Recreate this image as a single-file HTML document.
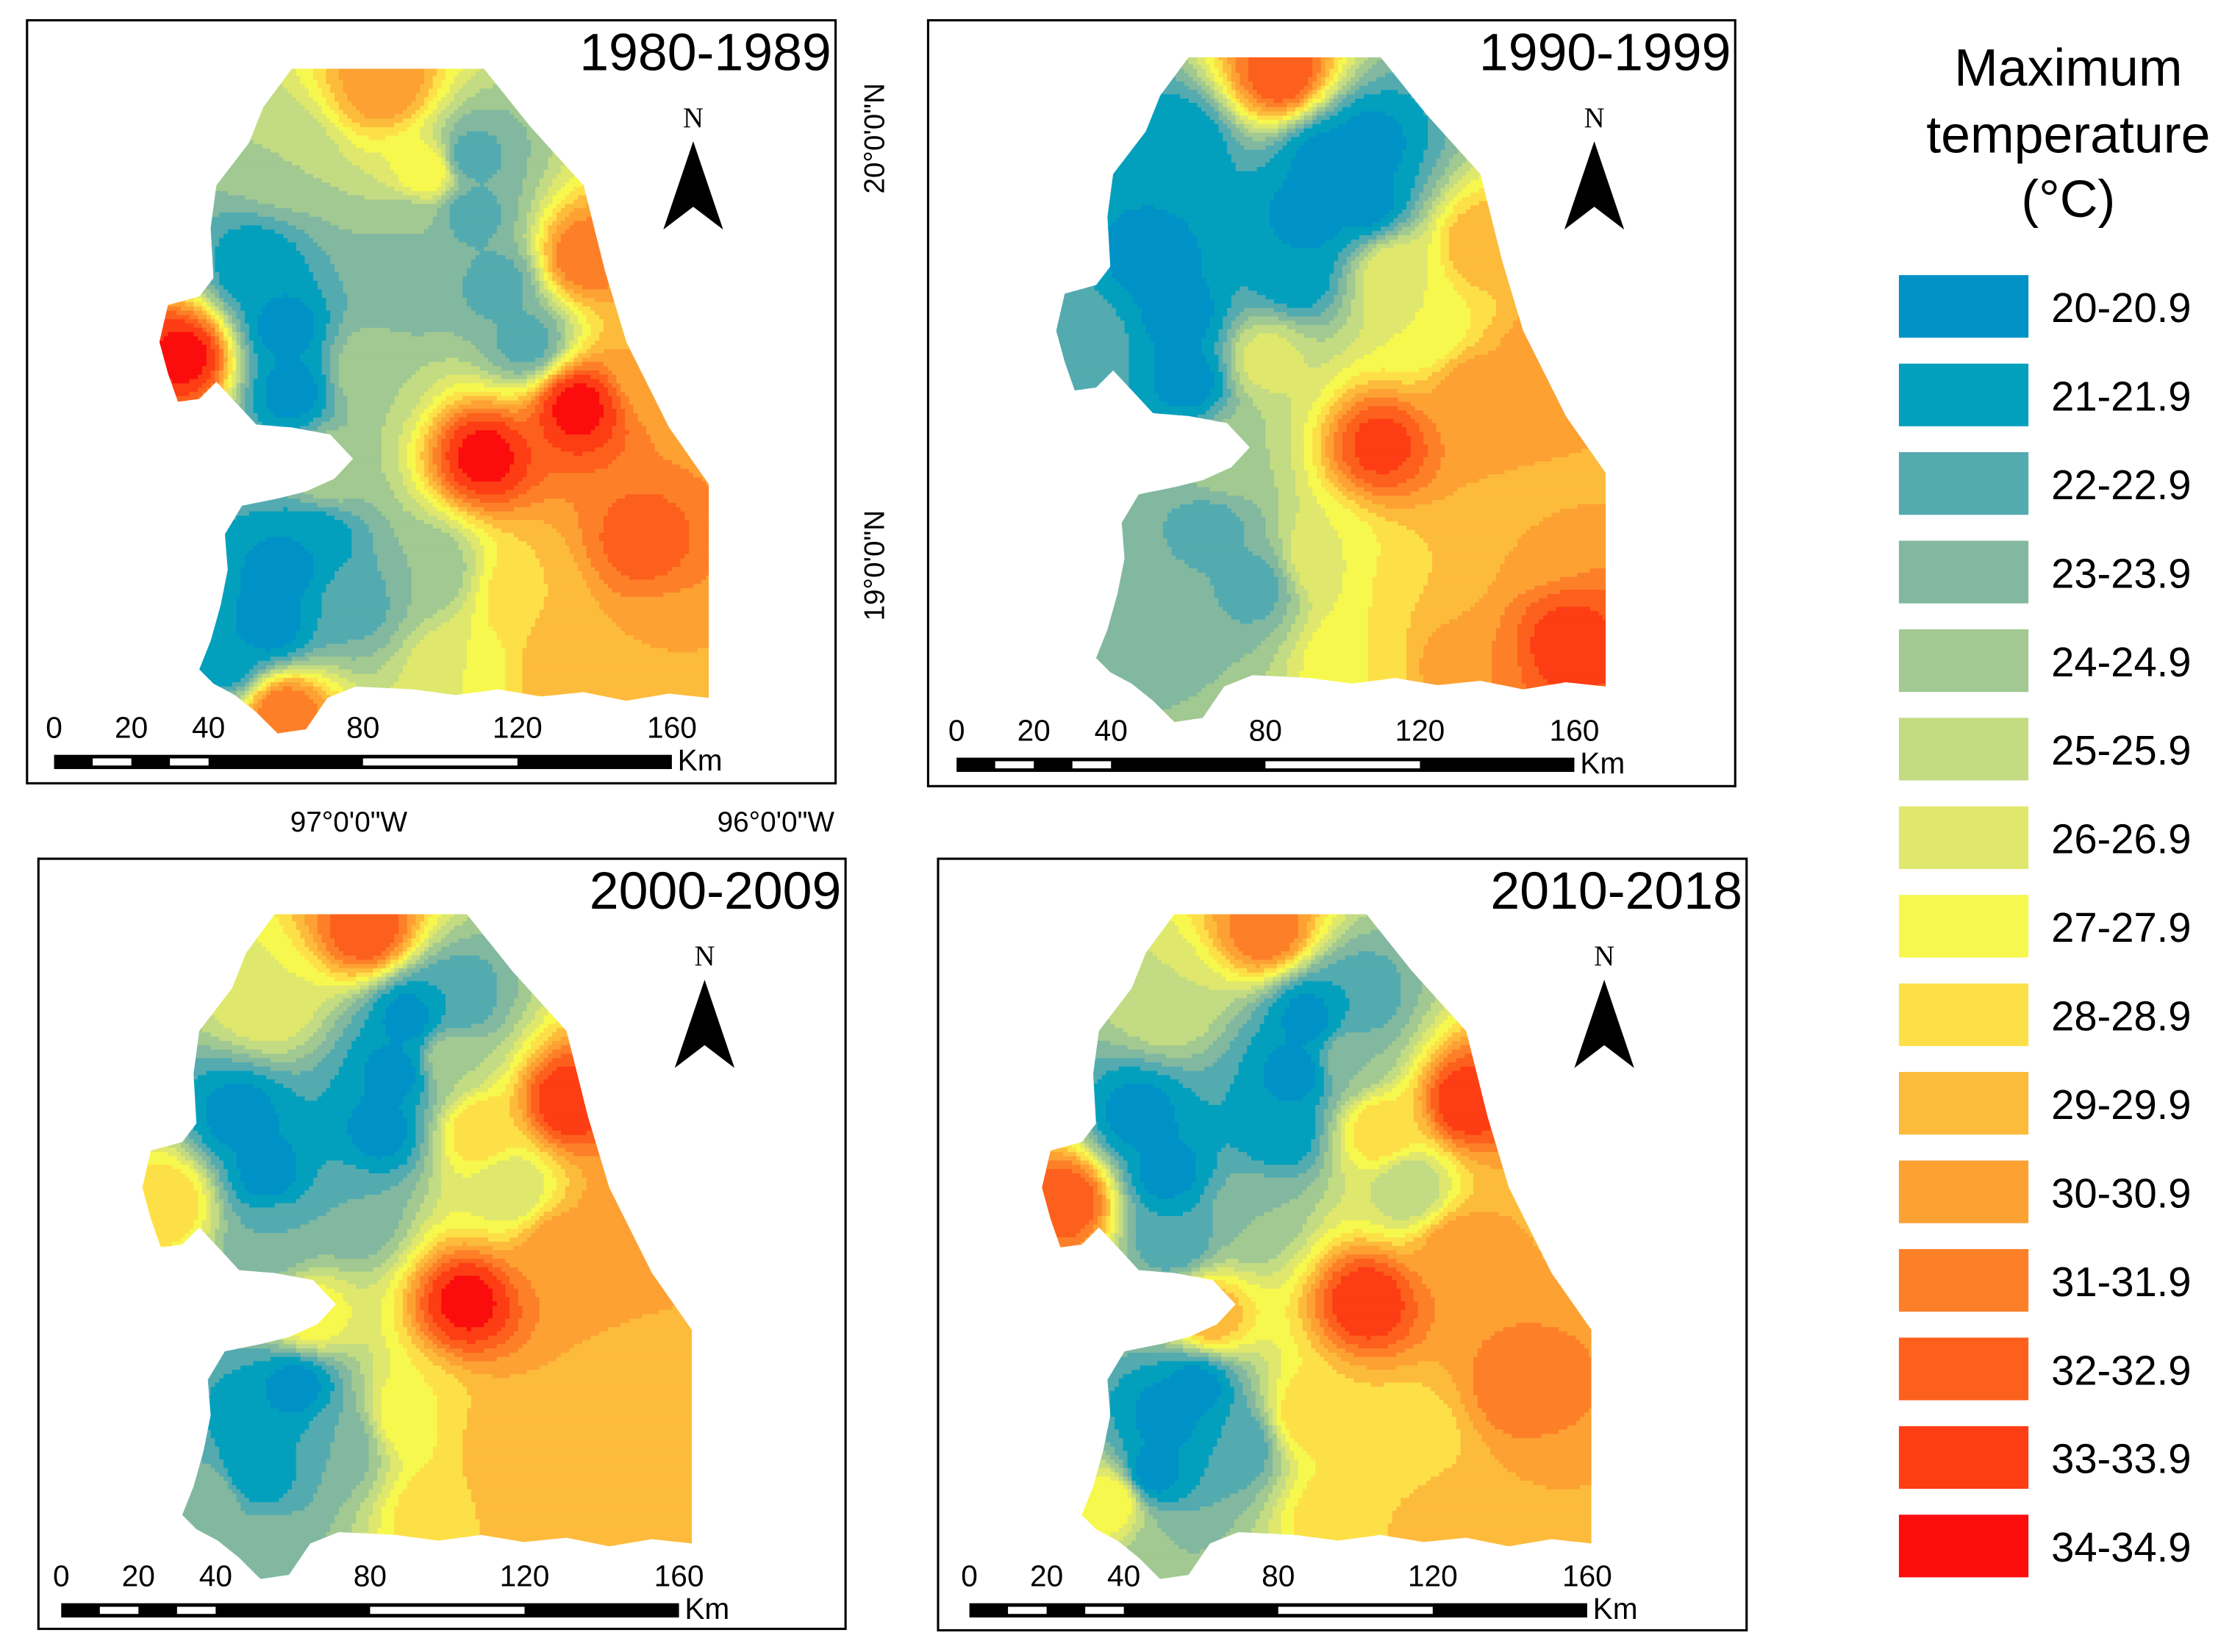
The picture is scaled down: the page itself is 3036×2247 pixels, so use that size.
<!DOCTYPE html>
<html><head><meta charset="utf-8"><style>
html,body{margin:0;padding:0;background:#fff}
svg{display:block;font-family:"Liberation Sans",Arial,sans-serif}
</style></head><body>
<svg id="fig" width="3036" height="2247" viewBox="0 0 1568 1160" xmlns="http://www.w3.org/2000/svg">
<defs id="defs"></defs>
<g id="maps"></g>
<g id="legend"></g>
</svg>
<script>
// ---- data ----
const levels = ["20-20.9","21-21.9","22-22.9","23-23.9","24-24.9","25-25.9","26-26.9","27-27.9","28-28.9","29-29.9","30-30.9","31-31.9","32-32.9","33-33.9","34-34.9"];
const levelColors = ["#0092c7","#03a0bd","#53abb0","#82b8a0","#a1c991","#c3db82","#dfe86c","#f7f84e","#fde047","#fdbb3c","#fda133","#fd8029","#fd601c","#fd3d14","#fb0d0d"];
const periods = ["1980-1989","1990-1999","2000-2009","2010-2018"];
const stationX = [270,200,330,300,410,200,130,260,340,405,450,470,200,250,200,300,370,280,370,160,400,320,230,460,330,350,180,190,220,290,205];
const stationY = [60,110,150,120,180,230,250,260,320,285,380,460,400,420,500,400,420,200,240,460,470,470,330,260,110,200,190,440,380,160,275];
const temps1980 = [31,25,22.5,28,32,20.5,34.5,25,34.5,34.5,32.5,30,20.5,22.5,32,24,29,23,22.5,21,30,27,25,30,22.5,22.5,21,20.5,21,24,20.5];
const temps1990 = [33,21,20.5,20.5,30,20.5,23,26.5,33.5,31,30,33.5,23,22.5,24,27,29,21,27,24,31,28,25,31,20.5,27,20.5,23.5,22.5,20.5,20.5];
const temps2000 = [33,27,25,20.5,34,20.5,29,23,34.5,31,30,29,21,23,24,28,30,20.5,26,24,30,29,28,31,22,29,20.5,21,20.5,20.5,23];
const temps2010 = [32,26,24,20.5,34,20.5,33,24,34,31,32,30,20.5,22,24,29,28,21,25,28,30,29,30,30,22,29,20.5,20.5,20.5,20.5,22];
const periodTemps = [temps1980,temps1990,temps2000,temps2010];
const scaleTicks = ["0","20","40","80","120","160"];
const scaleTickKm = [0,20,40,80,120,160];

// ---- layout ----
const NS="http://www.w3.org/2000/svg";
const maps=document.getElementById('maps');
const defs=document.getElementById('defs');
function el(t,a,p){const e=document.createElementNS(NS,t);for(const k in a)e.setAttribute(k,a[k]);(p||maps).appendChild(e);return e;}
const outline=[[205,48],[340,48],[372,88],[410,130],[425,190],[440,240],[470,300],[498,340],[498,490],[470,487],[440,492],[410,486],[380,489],[350,484],[320,488],[290,484],[250,482],[230,490],[215,512],[195,515],[180,500],[165,488],[150,480],[140,470],[148,450],[155,425],[160,400],[158,375],[170,355],[195,350],[215,345],[235,336],[248,322],[232,305],[205,300],[180,298],[168,285],[152,268],[140,280],[125,282],[118,262],[112,240],[118,214],[140,208],[150,195],[148,160],[152,130],[175,100],[185,75],[205,48]];
const frames=[{x:19,y:14,w:568,h:536,dx:0,dy:0,sy:535,sx:38},{x:652,y:14,w:567,h:538,dx:630,dy:-8,sy:537,sx:672},{x:27,y:603,w:567,h:541,dx:-12,dy:594,sx:43,sy:1131},{x:659,y:603,w:568,h:542,dx:620,dy:594,sx:681,sy:1131}];
function field(T,x,y){let ws=0,s=0;for(let i=0;i<T.length;i++){const d2=(x-stationX[i])**2+(y-stationY[i])**2+1;const w=1/Math.pow(d2,1.6);ws+=w;s+=w*T[i];}return s/ws;}
function levelIdx(t){return Math.max(0,Math.min(levels.length-1,Math.floor(t)-20));}
frames.forEach((f,p)=>{
  const g=el('g',{});
  
  
  const cp=el('clipPath',{id:'clip'+p},defs);
  el('polygon',{points:outline.map(q=>(q[0]+f.dx)+','+(q[1]+f.dy)).join(' ')},cp);
  const mg=el('g',{'clip-path':'url(#clip'+p+')'},g);
  
  
  const T=periodTemps[p],c=3;
  for(let y=44;y<520;y+=c){let runStart=100,runLvl=-1;
    for(let x=100;x<=505;x+=c){const l=x<505?levelIdx(field(T,x+c/2,y+c/2)):-2;
      if(l!==runLvl){if(runLvl>=0){const r=el('rect',{x:runStart+f.dx,y:y+f.dy,width:x-runStart+0.6,height:c+0.6,fill:levelColors[runLvl]},mg);
          
          }
        runStart=x;runLvl=l;}}}
  const fr=el('rect',{x:f.x,y:f.y,width:f.w,height:f.h,fill:'none',stroke:'#000','stroke-width':1.6},g);
  
  
  const tt=el('text',{x:f.x+f.w-3,y:f.y+35,'text-anchor':'end','font-size':37},g);tt.textContent=periods[p];
  
  
  const ax=f.x+468,ay=f.y+75;
  const na=el('g',{},g);
  
  
  const nt=el('text',{x:ax,y:ay,'text-anchor':'middle','font-size':20,'font-family':'Liberation Serif, serif'},na);nt.textContent='N';
  el('polygon',{points:`${ax},${ay+10} ${ax+21},${ay+72} ${ax},${ay+56} ${ax-21},${ay+72}`,fill:'#000'},na);
  const sb=el('g',{},g);
  
  
  const kmW=434/160;
  el('rect',{x:f.sx,y:f.sy-5,width:434,height:10,fill:'#000'},sb);
  [[10,20],[30,40],[80,120]].forEach(s=>el('rect',{x:f.sx+s[0]*kmW,y:f.sy-2.5,width:(s[1]-s[0])*kmW,height:5,fill:'#fff'},sb));
  scaleTicks.forEach((t,i)=>{const tx=el('text',{x:f.sx+scaleTickKm[i]*kmW,y:f.sy-17,'text-anchor':'middle','font-size':21},sb);tx.textContent=t;});
  const km=el('text',{x:f.sx+438,y:f.sy+6,'font-size':21},sb);km.textContent='Km';
});
[["97°0'0\"W",245,584],["96°0'0\"W",545,584]].forEach(a=>{const t=el('text',{x:a[1],y:a[2],'text-anchor':'middle','font-size':20});t.textContent=a[0];});
[["20°0'0\"N",97],["19°0'0\"N",397]].forEach(a=>{const t=el('text',{x:621,y:a[1],'text-anchor':'middle','font-size':20,transform:`rotate(-90 621 ${a[1]})`});t.textContent=a[0];});
const lg=document.getElementById('legend');
["Maximum","temperature","(°C)"].forEach((s,i)=>{const t=el('text',{x:1453,y:[60,107,152][i],'text-anchor':'middle','font-size':37},lg);t.textContent=s;});
levels.forEach((l,i)=>{const y=193+i*62.2;
  const r=el('rect',{x:1334,y:y,width:91,height:44,fill:levelColors[i]},lg);
  
  
  const t=el('text',{x:1441,y:y+33,'font-size':29},lg);t.textContent=l;
  
  });
</script>
</body></html>
